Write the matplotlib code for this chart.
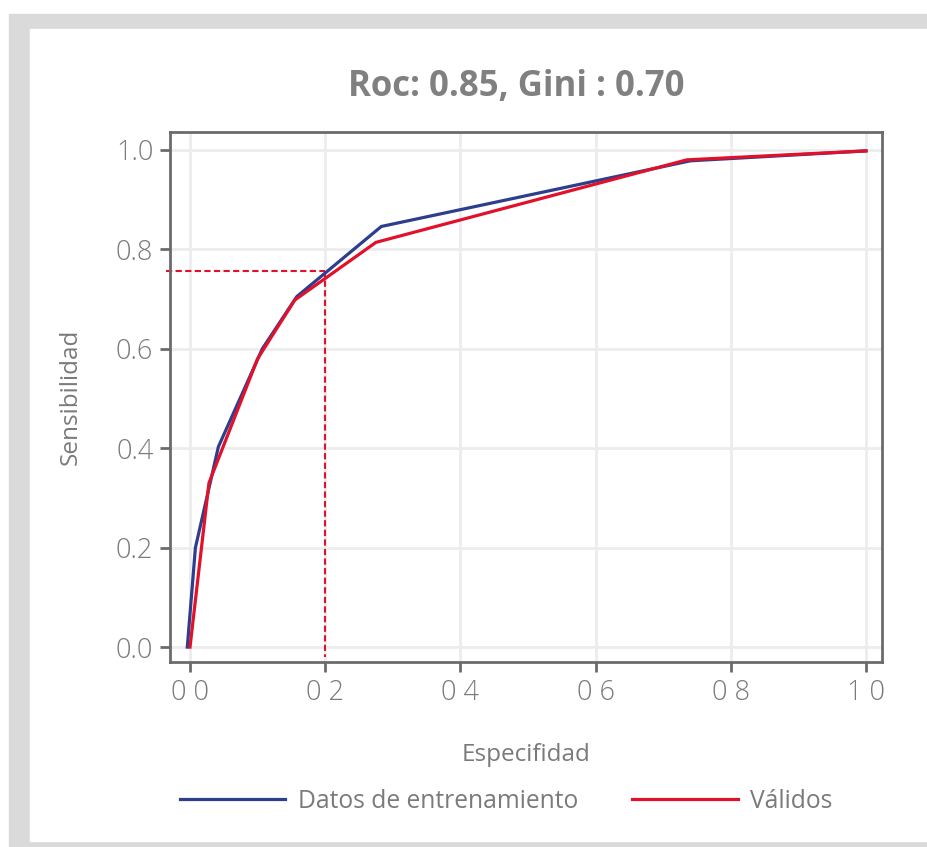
import numpy as np
import matplotlib.pyplot as plt
from matplotlib.patches import Rectangle

# curva ROC
train_x = [-0.004, 0.008, 0.042, 0.107, 0.158, 0.283, 0.74, 1.0]
train_y = [0.0, 0.20, 0.403, 0.60, 0.705, 0.846, 0.978, 0.998]
valid_x = [0.0, 0.028, 0.10, 0.155, 0.275, 0.735, 1.0]
valid_y = [0.0, 0.33, 0.58, 0.698, 0.814, 0.98, 0.998]
cut_x, cut_y = 0.2, 0.756

ticks = [0.0, 0.2, 0.4, 0.6, 0.8, 1.0]
xtick_labels = ["0 0", "0 2", "0 4", "0 6", "0 8", "1 0"]
ytick_labels = ["0.0", "0.2", "0.4", "0.6", "0.8", "1.0"]

plt.rcParams['font.family'] = ['Open Sans', 'DejaVu Sans']
gray = '#6b6b6b'
txt = '#7a7a7a'
blue = '#2c3e8c'
red = '#e2112b'

fig = plt.figure(figsize=(9.28, 8.47), dpi=100)
W, H = 928, 847
# marco gris
fig.patches.append(Rectangle((9 / W, 0), 1 - 9 / W, 1 - 14 / H, transform=fig.transFigure,
                             color='#dadada', zorder=-2))
fig.patches.append(Rectangle((30 / W, 6 / H), 1, 1 - 29 / H - 6 / H, transform=fig.transFigure,
                             color='white', zorder=-1))

ax = fig.add_axes([170 / W, 1 - 662 / H, 712 / W, 530 / H])
ax.set_facecolor('white')
ax.plot(train_x, train_y, color=blue, lw=2.3, label='Datos de entrenamiento', zorder=3)
ax.plot(valid_x, valid_y, color=red, lw=2.3, label='Válidos', zorder=3)
ax.plot([-0.035, cut_x], [cut_y, cut_y], color=red, ls=(0, (3, 1.6)), lw=1.5, clip_on=False, zorder=2)
ax.plot([cut_x, cut_x], [cut_y, -0.02], color=red, ls=(0, (3, 1.6)), lw=1.5, zorder=2)

ax.set_xlim(-0.0296, 1.0237)
ax.set_ylim(-0.030, 1.036)
ax.set_xticks(ticks)
ax.set_xticklabels(xtick_labels, fontweight='light')
ax.set_yticks(ticks)
ax.set_yticklabels(ytick_labels, fontweight='light')
ax.grid(True, color='#ececec', lw=2)
ax.set_axisbelow(True)
for s in ax.spines.values():
    s.set_color(gray)
    s.set_linewidth(2)
ax.tick_params(colors=gray, labelcolor=txt, labelsize=19.5, length=7, width=2, pad=5)

ax.set_xlabel('Especifidad', fontsize=17.5, color=txt, labelpad=26)
ax.set_ylabel('Sensibilidad', fontsize=17.5, color=txt, labelpad=24)
ax.set_title('Roc: 0.85, Gini : 0.70', fontsize=25, fontweight='bold', color='#808080',
             pad=26, x=0.487)

fig.legend(loc='center', bbox_to_anchor=(506 / W, 1 - 801 / H), ncol=2, frameon=False,
           handlelength=4.3, columnspacing=2.2, handletextpad=0.5,
           prop={'size': 17.7}, labelcolor=txt)

fig.savefig('out.png', dpi=100)
